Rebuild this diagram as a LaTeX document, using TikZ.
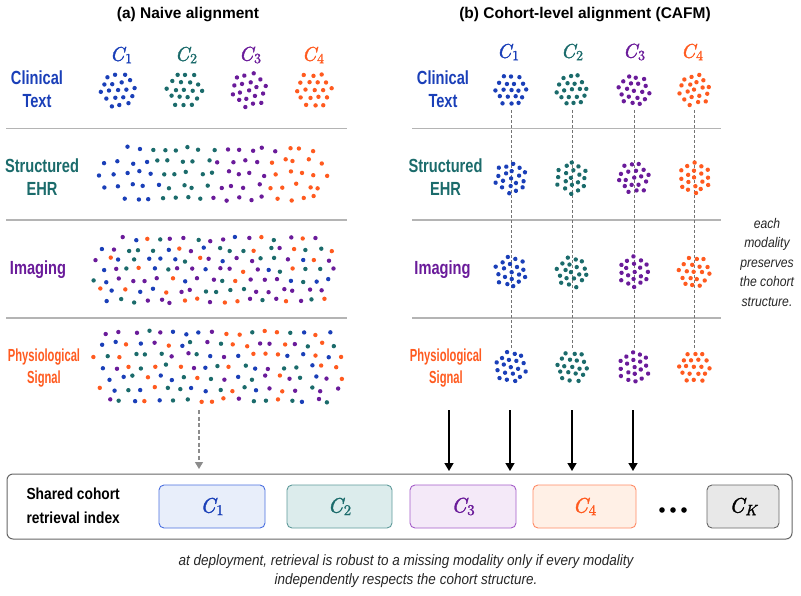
\documentclass[tikz,border=0pt]{standalone}
\usepackage{fontspec}
\setmainfont{Liberation Sans}
\newfontfamily\condf[FakeStretch=0.77]{Liberation Sans}
\newfontfamily\condg[FakeStretch=0.64]{Liberation Sans}
\newfontfamily\boxf[FakeStretch=0.86]{Liberation Sans}
\newfontfamily\notef[FakeStretch=0.87]{Liberation Sans}
\newfontfamily\capf[FakeStretch=0.9]{Liberation Sans}
\newfontfamily\cmfi[Extension=.otf, FakeBold=1.6]{lmroman10-italic}
\newfontfamily\cmfr[Extension=.otf, FakeBold=1.2]{lmroman10-regular}
\usetikzlibrary{arrows.meta}
\definecolor{cb}{HTML}{1A3FB8}
\definecolor{ct}{HTML}{1B6B6B}
\definecolor{cp}{HTML}{6A1B9A}
\definecolor{co}{HTML}{FF5A1F}
\colorlet{dot0}{cb}\colorlet{dot1}{ct}\colorlet{dot2}{cp}\colorlet{dot3}{co}
\definecolor{sepc}{HTML}{B4B4B4}
\definecolor{b1d}{HTML}{4A6FE0}\definecolor{b1f}{HTML}{E8EEFA}
\definecolor{b2d}{HTML}{5E9A9A}\definecolor{b2f}{HTML}{DCECEC}
\definecolor{b3d}{HTML}{A45CC8}\definecolor{b3f}{HTML}{F4E9F8}
\definecolor{b4d}{HTML}{FF8A65}\definecolor{b4f}{HTML}{FFF0E6}
\definecolor{bkd}{HTML}{666666}\definecolor{bkf}{HTML}{E8E8E8}
% cohort symbol: C with subscript; #1 subscript, #2 size, #3 subscript size
\newcommand{\cl}[3]{{\cmfi\fontsize{#2}{#2}\selectfont C}\kern0.8pt\raisebox{-0.25\height}{\fontsize{#3}{#3}\selectfont #1}}
\newcommand{\clust}[5]{% x, y, color, scale, rotation
  \begin{scope}[shift={(#1,#2)},rotate=#5]
  \foreach \a/\r in {0/0,0/1,60/1,120/1,180/1,240/1,300/1,30/1.732,90/1.732,150/1.732,210/1.732,270/1.732,330/1.732,0/2,60/2,120/2,180/2,240/2,300/2}
    \fill[#3] (\a:\r*#4) ++(rand*0.9,rand*0.9) circle (2.2);
  \end{scope}}
\tikzset{
  rowlab/.style={font=\condf\bfseries\fontsize{19}{23}\selectfont, align=center},
  physlab/.style={font=\condg\bfseries\fontsize{17.5}{22}\selectfont, align=center},
  clab/.style={inner sep=1},
  title/.style={font=\bfseries\fontsize{15.5}{18}\selectfont},
  sep/.style={draw=sepc, line width=1.4},
  vdash/.style={draw=black!55, line width=0.7, dash pattern=on 3 off 2},
  kbox/.style={rounded corners=5, minimum width=#1, minimum height=43, line width=0.9},
  blackarr/.style={line width=1.5, -{Triangle[width=9,length=8]}},
  grayarr/.style={draw=black!45, line width=1.3, dash pattern=on 4 off 2.5, -{Triangle[width=8,length=7]}, black!45},
  note/.style={font=\notef\itshape\fontsize{14}{19.5}\selectfont, align=center, text=black!85},
  capt/.style={font=\capf\itshape\fontsize{15}{19}\selectfont, align=center, text=black!85}
}
\begin{document}
\begin{tikzpicture}[x=1pt,y=-1pt]
\useasboundingbox (0,0) rectangle (801,595);
\pgfmathsetseed{42}
% titles
\node[title] (ta) at (188,15) {(a) Naive alignment};
\node[title] (tb) at (585,15) {(b) Cohort-level alignment (CAFM)};
% C labels left
\node[clab,text=cb] (la1) at (121,55) {\cl{\cmfr 1}{20}{14}};
\node[clab,text=ct] (la2) at (186,55) {\cl{\cmfr 2}{20}{14}};
\node[clab,text=cp] (la3) at (250,55) {\cl{\cmfr 3}{20}{14}};
\node[clab,text=co] (la4) at (313,55) {\cl{\cmfr 4}{20}{14}};
% C labels right
\node[clab,text=cb] (lb1) at (508,52) {\cl{\cmfr 1}{20}{14}};
\node[clab,text=ct] (lb2) at (572,52) {\cl{\cmfr 2}{20}{14}};
\node[clab,text=cp] (lb3) at (634,52) {\cl{\cmfr 3}{20}{14}};
\node[clab,text=co] (lb4) at (692,52) {\cl{\cmfr 4}{20}{14}};
% row labels
\node[rowlab,text=cb] (ra1) at (37,89.5) {Clinical\\Text};
\node[rowlab,text=ct] (ra2) at (42,177) {Structured\\EHR};
\node[rowlab,text=cp] (ra3) at (38,270) {Imaging};
\node[physlab,text=co] (ra4) at (44,368) {Physiological\\Signal};
\node[rowlab,text=cb] (rb1) at (443,89.5) {Clinical\\Text};
\node[rowlab,text=ct] (rb2) at (445.5,177) {Structured\\EHR};
\node[rowlab,text=cp] (rb3) at (442.5,270) {Imaging};
\node[physlab,text=co] (rb4) at (446,368) {Physiological\\Signal};
% separators
\foreach \yy in {128.5,220,318}{
  \draw[sep] (6,\yy) -- (347,\yy);
  \draw[sep] (412,\yy) -- (721,\yy);
}
% left clinical text clusters
\clust{118}{90}{cb}{8.6}{8}
\clust{184.5}{90}{ct}{8.6}{-5}
\clust{249}{90}{cp}{8.6}{15}
\clust{314}{90}{co}{8.6}{3}
% Structured EHR band (cohorts roughly separated)
\foreach \row in {0,...,4}{
  \foreach \col in {0,...,18}{
    \pgfmathsetmacro{\xx}{100+\col*12.6+mod(\row,2)*6.3+rand*3}
    \pgfmathsetmacro{\yy}{149+\row*12.3+rand*2.5}
    \pgfmathsetmacro{\vv}{(\yy-174)/26}
    \pgfmathsetmacro{\lo}{98+16*\vv*\vv}
    \pgfmathsetmacro{\hi}{331-10*\vv*\vv}
    \pgfmathsetmacro{\cc}{int(max(0,min(3,floor((\xx-98+rand*10)/59))))}
    \ifdim\xx pt<\lo pt\else\ifdim\xx pt>\hi pt\else
      \fill[dot\cc] (\xx,\yy) circle (2.2);
    \fi\fi
  }
}
% Imaging band (mixed)
\foreach \row in {0,...,6}{
  \foreach \col in {0,...,19}{
    \pgfmathsetmacro{\xx}{95+\col*12.9+mod(\row,2)*6.4+rand*3}
    \pgfmathsetmacro{\yy}{239+\row*10.3+rand*2.2}
    \pgfmathsetmacro{\vv}{(\yy-270)/31}
    \pgfmathsetmacro{\lo}{90+16*\vv*\vv}
    \pgfmathsetmacro{\hi}{338-12*\vv*\vv}
    \pgfmathrandominteger{\cc}{0}{3}
    \ifdim\xx pt<\lo pt\else\ifdim\xx pt>\hi pt\else
      \fill[dot\cc] (\xx,\yy) circle (2.2);
    \fi\fi
  }
}
% Physiological band (mixed)
\foreach \row in {0,...,6}{
  \foreach \col in {0,...,19}{
    \pgfmathsetmacro{\xx}{95+\col*13+mod(\row,2)*6.5+rand*3}
    \pgfmathsetmacro{\yy}{333+\row*11.2+rand*2.4}
    \pgfmathsetmacro{\vv}{(\yy-366.5)/34}
    \pgfmathsetmacro{\lo}{91+12*\vv*\vv}
    \pgfmathsetmacro{\hi}{344-6*\vv*\vv}
    \pgfmathrandominteger{\cc}{0}{3}
    \ifdim\xx pt<\lo pt\else\ifdim\xx pt>\hi pt\else
      \fill[dot\cc] (\xx,\yy) circle (2.2);
    \fi\fi
  }
}
% right panel: dashed verticals
\foreach \xx/\n in {511/1,572/2,634/3,694.5/4}{
  \coordinate (dt\n) at (\xx,110);
  \coordinate (db\n) at (\xx,350);
  \draw[vdash] (dt\n) -- (db\n);
}
% right clusters
\foreach \yy/\rr in {90/0,178/20,272/40,367/-15}{
  \clust{511}{\yy}{cb}{7.6}{\rr}
  \clust{572}{\yy}{ct}{7.6}{\rr+7}
  \clust{634}{\yy}{cp}{7.6}{\rr-9}
  \clust{694.5}{\yy}{co}{7.6}{\rr+13}
}
% side note
\node[note] (side) at (767,262) {each\\modality\\preserves\\the cohort\\structure.};
% bottom index box
\node[draw=black!60, line width=1, rounded corners=6, minimum width=785, minimum height=65] (idx) at (399.5,506.5) {};
\node[font=\boxf\bfseries\fontsize{16}{24}\selectfont, align=left, anchor=west] (idxl) at (23,506) {Shared cohort\\retrieval index};
\node[kbox=106, draw=b1d, fill=b1f, text=cb] (k1) at (212,506.5) {\cl{\cmfr 1}{21}{15}};
\node[kbox=105, draw=b2d, fill=b2f, text=ct] (k2) at (339.5,506.5) {\cl{\cmfr 2}{21}{15}};
\node[kbox=106, draw=b3d, fill=b3f, text=cp] (k3) at (463,506.5) {\cl{\cmfr 3}{21}{15}};
\node[kbox=103, draw=b4d, fill=b4f, text=co] (k4) at (584.5,506.5) {\cl{\cmfr 4}{21}{15}};
\node[inner sep=0, minimum width=28, minimum height=8] (kd) at (673,510) {};
\foreach \dx in {-11,0,11} \fill ([xshift=\dx]kd.center) circle (2.8);
\node[kbox=72, draw=bkd, fill=bkf, text=black] (kK) at (743,506.5) {\cl{\cmfi K}{21}{15}};
% arrows
\foreach \xx/\n in {449/1,510/2,572/3,633/4}{
  \coordinate (as\n) at (\xx,410);
  \coordinate (ae\n) at (\xx,471);
  \draw[blackarr] (as\n) -- (ae\n);
}
\coordinate (gs) at (199,410);
\coordinate (ge) at (199,469);
\draw[grayarr] (gs) -- (ge);
% caption
\node[capt] (cap) at (406,571) {at deployment, retrieval is robust to a missing modality only if every modality\\independently respects the cohort structure.};
\end{tikzpicture}
\end{document}
